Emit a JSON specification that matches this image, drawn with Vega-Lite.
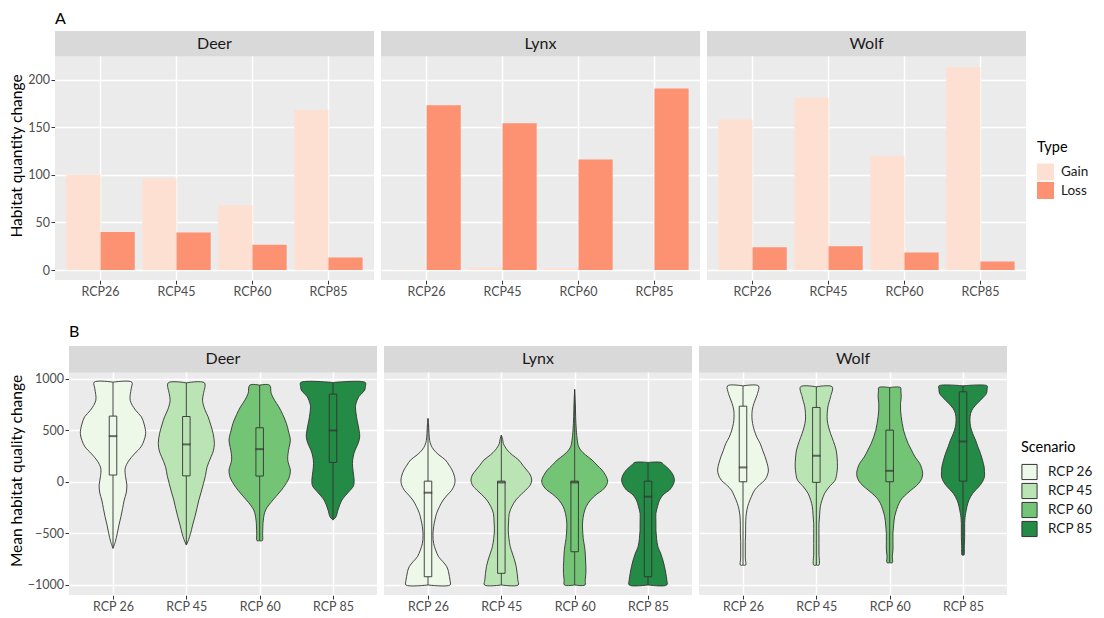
{
  "$schema": "https://vega.github.io/schema/vega-lite/v6.json",
  "padding": {"left": 8, "top": 11, "right": 0, "bottom": 0},
  "config": {
    "font": "Lato",
    "view": {"fill": "#EBEBEB", "stroke": null},
    "axis": {"domain": false, "gridColor": "#FFFFFF", "tickColor": "#333333", "tickSize": 4, "tickWidth": 1, "labelColor": "#4D4D4D", "labelFontSize": 12.5, "labelPadding": 1.5, "titleFontSize": 15.5, "titleFontWeight": "normal", "titleColor": "#000000", "titlePadding": 3},
    "legend": {"titleFontSize": 14.5, "titleFontWeight": "normal", "titleColor": "#000000", "labelFontSize": 13.5, "labelColor": "#1A1A1A", "symbolType": "square", "titlePadding": 8},
    "title": {"fontSize": 16, "fontWeight": "normal", "color": "#000000", "anchor": "start", "frame": "group"}
  },
  "spacing": 26,
  "resolve": {"scale": {"color": "independent"}, "legend": {"color": "independent"}},
  "vconcat": [
    {
      "spacing": 0,
      "hconcat": [
        {"width": 1, "height": 1, "view": {"fill": null, "stroke": null}, "data": {"values": []}, "mark": "rect", "encoding": {}},
        {
          "title": {"text": "A", "offset": 4},
          "data": {"values": [
            {"species": "Deer", "scenario": "RCP26", "type": "Gain", "change": 100},
            {"species": "Deer", "scenario": "RCP26", "type": "Loss", "change": 40},
            {"species": "Deer", "scenario": "RCP45", "type": "Gain", "change": 96},
            {"species": "Deer", "scenario": "RCP45", "type": "Loss", "change": 39.5},
            {"species": "Deer", "scenario": "RCP60", "type": "Gain", "change": 68},
            {"species": "Deer", "scenario": "RCP60", "type": "Loss", "change": 26.5},
            {"species": "Deer", "scenario": "RCP85", "type": "Gain", "change": 168},
            {"species": "Deer", "scenario": "RCP85", "type": "Loss", "change": 13},
            {"species": "Lynx", "scenario": "RCP26", "type": "Gain", "change": 0.5},
            {"species": "Lynx", "scenario": "RCP26", "type": "Loss", "change": 173},
            {"species": "Lynx", "scenario": "RCP45", "type": "Gain", "change": 2.5},
            {"species": "Lynx", "scenario": "RCP45", "type": "Loss", "change": 154},
            {"species": "Lynx", "scenario": "RCP60", "type": "Gain", "change": 2},
            {"species": "Lynx", "scenario": "RCP60", "type": "Loss", "change": 116},
            {"species": "Lynx", "scenario": "RCP85", "type": "Gain", "change": 0},
            {"species": "Lynx", "scenario": "RCP85", "type": "Loss", "change": 190.5},
            {"species": "Wolf", "scenario": "RCP26", "type": "Gain", "change": 158},
            {"species": "Wolf", "scenario": "RCP26", "type": "Loss", "change": 24},
            {"species": "Wolf", "scenario": "RCP45", "type": "Gain", "change": 181},
            {"species": "Wolf", "scenario": "RCP45", "type": "Loss", "change": 25},
            {"species": "Wolf", "scenario": "RCP60", "type": "Gain", "change": 120},
            {"species": "Wolf", "scenario": "RCP60", "type": "Loss", "change": 18.5},
            {"species": "Wolf", "scenario": "RCP85", "type": "Gain", "change": 213},
            {"species": "Wolf", "scenario": "RCP85", "type": "Loss", "change": 9}
          ]},
          "facet": {"column": {"field": "species", "type": "nominal", "header": null}},
          "spacing": 7,
          "spec": {
            "width": 319,
            "height": 249,
            "layer": [
              {
                "mark": {"type": "bar"},
                "encoding": {
                  "x": {"field": "scenario", "type": "nominal", "scale": {"paddingInner": 0.1, "paddingOuter": 0.15},
                        "axis": {"title": null, "grid": true, "gridWidth": 1.5, "labelAngle": 0}},
                  "xOffset": {"field": "type", "type": "nominal"},
                  "y": {"field": "change", "type": "quantitative",
                        "scale": {"domain": [-10.5, 251], "nice": false, "zero": false},
                        "axis": {"title": "Habitat quantity change",
                                 "values": [0, 25, 50, 75, 100, 125, 150, 175, 200],
                                 "format": "d",
                                 "labelExpr": "datum.value % 50 === 0 ? datum.label : ''",
                                 "gridWidth": {"condition": {"test": "datum.value % 50 === 0", "value": 1.5}, "value": 0.75},
                                 "tickOpacity": {"condition": {"test": "datum.value % 50 === 0", "value": 1}, "value": 0}}},
                  "color": {"field": "type", "type": "nominal", "scale": {"domain": ["Gain", "Loss"], "range": ["#FEE0D2", "#FC9272"]},
                            "legend": {"title": "Type", "orient": "none", "legendX": 1029, "legendY": 110, "symbolSize": 289, "symbolStrokeWidth": 0, "rowPadding": 1.5, "labelOffset": 7}}
                }
              },
              {
                "transform": [{"aggregate": [{"op": "count", "as": "n"}], "groupby": ["species"]}],
                "mark": {"type": "rect", "fill": "#D9D9D9"},
                "encoding": {"y": {"datum": 224.5, "type": "quantitative"}, "y2": {"datum": 251}}
              },
              {
                "transform": [{"aggregate": [{"op": "count", "as": "n"}], "groupby": ["species"]}],
                "mark": {"type": "text", "fontSize": 16, "color": "#1A1A1A", "baseline": "middle"},
                "encoding": {"y": {"datum": 237.7, "type": "quantitative"}, "text": {"field": "species"}}
              }
            ]
          }
        }
      ]
    },
    {
      "spacing": 0,
      "hconcat": [
        {"width": 1, "height": 1, "view": {"fill": null, "stroke": null}, "data": {"values": []}, "mark": "rect", "encoding": {}},
        {
          "title": {"text": "B", "offset": 6},
          "data": {"values": [
            {"species":"Deer","scenario":"RCP 26","value":-645,"density":0},
            {"species":"Deer","scenario":"RCP 26","value":-580,"density":0.07},
            {"species":"Deer","scenario":"RCP 26","value":-500,"density":0.13},
            {"species":"Deer","scenario":"RCP 26","value":-420,"density":0.18},
            {"species":"Deer","scenario":"RCP 26","value":-339,"density":0.24},
            {"species":"Deer","scenario":"RCP 26","value":-260,"density":0.29},
            {"species":"Deer","scenario":"RCP 26","value":-177,"density":0.34},
            {"species":"Deer","scenario":"RCP 26","value":-110,"density":0.40},
            {"species":"Deer","scenario":"RCP 26","value":-30,"density":0.42},
            {"species":"Deer","scenario":"RCP 26","value":50,"density":0.38},
            {"species":"Deer","scenario":"RCP 26","value":130,"density":0.37},
            {"species":"Deer","scenario":"RCP 26","value":200,"density":0.47},
            {"species":"Deer","scenario":"RCP 26","value":270,"density":0.65},
            {"species":"Deer","scenario":"RCP 26","value":339,"density":0.85},
            {"species":"Deer","scenario":"RCP 26","value":400,"density":0.94},
            {"species":"Deer","scenario":"RCP 26","value":468,"density":0.99},
            {"species":"Deer","scenario":"RCP 26","value":550,"density":0.95},
            {"species":"Deer","scenario":"RCP 26","value":629,"density":0.86},
            {"species":"Deer","scenario":"RCP 26","value":694,"density":0.68},
            {"species":"Deer","scenario":"RCP 26","value":790,"density":0.52},
            {"species":"Deer","scenario":"RCP 26","value":900,"density":0.55},
            {"species":"Deer","scenario":"RCP 26","value":965,"density":0.57},
            {"species":"Deer","scenario":"RCP 26","value":965,"density":0},
            {"species":"Deer","scenario":"RCP 45","value":-613,"density":0},
            {"species":"Deer","scenario":"RCP 45","value":-560,"density":0.07},
            {"species":"Deer","scenario":"RCP 45","value":-500,"density":0.13},
            {"species":"Deer","scenario":"RCP 45","value":-420,"density":0.19},
            {"species":"Deer","scenario":"RCP 45","value":-339,"density":0.26},
            {"species":"Deer","scenario":"RCP 45","value":-260,"density":0.32},
            {"species":"Deer","scenario":"RCP 45","value":-177,"density":0.38},
            {"species":"Deer","scenario":"RCP 45","value":-100,"density":0.45},
            {"species":"Deer","scenario":"RCP 45","value":-16,"density":0.52},
            {"species":"Deer","scenario":"RCP 45","value":60,"density":0.58},
            {"species":"Deer","scenario":"RCP 45","value":145,"density":0.63},
            {"species":"Deer","scenario":"RCP 45","value":242,"density":0.75},
            {"species":"Deer","scenario":"RCP 45","value":300,"density":0.82},
            {"species":"Deer","scenario":"RCP 45","value":371,"density":0.85},
            {"species":"Deer","scenario":"RCP 45","value":468,"density":0.81},
            {"species":"Deer","scenario":"RCP 45","value":550,"density":0.74},
            {"species":"Deer","scenario":"RCP 45","value":629,"density":0.66},
            {"species":"Deer","scenario":"RCP 45","value":700,"density":0.56},
            {"species":"Deer","scenario":"RCP 45","value":790,"density":0.49},
            {"species":"Deer","scenario":"RCP 45","value":855,"density":0.52},
            {"species":"Deer","scenario":"RCP 45","value":958,"density":0.55},
            {"species":"Deer","scenario":"RCP 45","value":958,"density":0},
            {"species":"Deer","scenario":"RCP 60","value":-571,"density":0},
            {"species":"Deer","scenario":"RCP 60","value":-571,"density":0.08},
            {"species":"Deer","scenario":"RCP 60","value":-500,"density":0.09},
            {"species":"Deer","scenario":"RCP 60","value":-371,"density":0.11},
            {"species":"Deer","scenario":"RCP 60","value":-274,"density":0.18},
            {"species":"Deer","scenario":"RCP 60","value":-177,"density":0.40},
            {"species":"Deer","scenario":"RCP 60","value":-81,"density":0.66},
            {"species":"Deer","scenario":"RCP 60","value":16,"density":0.86},
            {"species":"Deer","scenario":"RCP 60","value":60,"density":0.91},
            {"species":"Deer","scenario":"RCP 60","value":113,"density":0.93},
            {"species":"Deer","scenario":"RCP 60","value":160,"density":0.89},
            {"species":"Deer","scenario":"RCP 60","value":210,"density":0.85},
            {"species":"Deer","scenario":"RCP 60","value":274,"density":0.86},
            {"species":"Deer","scenario":"RCP 60","value":330,"density":0.89},
            {"species":"Deer","scenario":"RCP 60","value":403,"density":0.93},
            {"species":"Deer","scenario":"RCP 60","value":480,"density":0.88},
            {"species":"Deer","scenario":"RCP 60","value":565,"density":0.81},
            {"species":"Deer","scenario":"RCP 60","value":650,"density":0.70},
            {"species":"Deer","scenario":"RCP 60","value":726,"density":0.58},
            {"species":"Deer","scenario":"RCP 60","value":790,"density":0.45},
            {"species":"Deer","scenario":"RCP 60","value":855,"density":0.35},
            {"species":"Deer","scenario":"RCP 60","value":936,"density":0.30},
            {"species":"Deer","scenario":"RCP 60","value":936,"density":0},
            {"species":"Deer","scenario":"RCP 85","value":-371,"density":0},
            {"species":"Deer","scenario":"RCP 85","value":-340,"density":0.09},
            {"species":"Deer","scenario":"RCP 85","value":-274,"density":0.15},
            {"species":"Deer","scenario":"RCP 85","value":-177,"density":0.27},
            {"species":"Deer","scenario":"RCP 85","value":-100,"density":0.47},
            {"species":"Deer","scenario":"RCP 85","value":-40,"density":0.62},
            {"species":"Deer","scenario":"RCP 85","value":16,"density":0.64},
            {"species":"Deer","scenario":"RCP 85","value":100,"density":0.61},
            {"species":"Deer","scenario":"RCP 85","value":178,"density":0.59},
            {"species":"Deer","scenario":"RCP 85","value":240,"density":0.61},
            {"species":"Deer","scenario":"RCP 85","value":307,"density":0.67},
            {"species":"Deer","scenario":"RCP 85","value":370,"density":0.76},
            {"species":"Deer","scenario":"RCP 85","value":436,"density":0.81},
            {"species":"Deer","scenario":"RCP 85","value":500,"density":0.79},
            {"species":"Deer","scenario":"RCP 85","value":597,"density":0.73},
            {"species":"Deer","scenario":"RCP 85","value":660,"density":0.70},
            {"species":"Deer","scenario":"RCP 85","value":726,"density":0.68},
            {"species":"Deer","scenario":"RCP 85","value":760,"density":0.70},
            {"species":"Deer","scenario":"RCP 85","value":823,"density":0.78},
            {"species":"Deer","scenario":"RCP 85","value":887,"density":0.96},
            {"species":"Deer","scenario":"RCP 85","value":920,"density":0.98},
            {"species":"Deer","scenario":"RCP 85","value":961,"density":0.98},
            {"species":"Deer","scenario":"RCP 85","value":961,"density":0},
            {"species":"Lynx","scenario":"RCP 26","value":-1000,"density":0},
            {"species":"Lynx","scenario":"RCP 26","value":-1000,"density":0.67},
            {"species":"Lynx","scenario":"RCP 26","value":-960,"density":0.67},
            {"species":"Lynx","scenario":"RCP 26","value":-920,"density":0.65},
            {"species":"Lynx","scenario":"RCP 26","value":-870,"density":0.62},
            {"species":"Lynx","scenario":"RCP 26","value":-823,"density":0.57},
            {"species":"Lynx","scenario":"RCP 26","value":-770,"density":0.44},
            {"species":"Lynx","scenario":"RCP 26","value":-726,"density":0.32},
            {"species":"Lynx","scenario":"RCP 26","value":-660,"density":0.23},
            {"species":"Lynx","scenario":"RCP 26","value":-597,"density":0.17},
            {"species":"Lynx","scenario":"RCP 26","value":-520,"density":0.15},
            {"species":"Lynx","scenario":"RCP 26","value":-436,"density":0.17},
            {"species":"Lynx","scenario":"RCP 26","value":-370,"density":0.21},
            {"species":"Lynx","scenario":"RCP 26","value":-306,"density":0.26},
            {"species":"Lynx","scenario":"RCP 26","value":-240,"density":0.35},
            {"species":"Lynx","scenario":"RCP 26","value":-177,"density":0.46},
            {"species":"Lynx","scenario":"RCP 26","value":-120,"density":0.61},
            {"species":"Lynx","scenario":"RCP 26","value":-81,"density":0.72},
            {"species":"Lynx","scenario":"RCP 26","value":-30,"density":0.80},
            {"species":"Lynx","scenario":"RCP 26","value":16,"density":0.82},
            {"species":"Lynx","scenario":"RCP 26","value":65,"density":0.79},
            {"species":"Lynx","scenario":"RCP 26","value":113,"density":0.73},
            {"species":"Lynx","scenario":"RCP 26","value":160,"density":0.64},
            {"species":"Lynx","scenario":"RCP 26","value":210,"density":0.53},
            {"species":"Lynx","scenario":"RCP 26","value":260,"density":0.33},
            {"species":"Lynx","scenario":"RCP 26","value":307,"density":0.18},
            {"species":"Lynx","scenario":"RCP 26","value":355,"density":0.09},
            {"species":"Lynx","scenario":"RCP 26","value":400,"density":0.05},
            {"species":"Lynx","scenario":"RCP 26","value":468,"density":0.03},
            {"species":"Lynx","scenario":"RCP 26","value":540,"density":0.02},
            {"species":"Lynx","scenario":"RCP 26","value":613,"density":0},
            {"species":"Lynx","scenario":"RCP 45","value":-1000,"density":0},
            {"species":"Lynx","scenario":"RCP 45","value":-1000,"density":0.51},
            {"species":"Lynx","scenario":"RCP 45","value":-950,"density":0.50},
            {"species":"Lynx","scenario":"RCP 45","value":-887,"density":0.48},
            {"species":"Lynx","scenario":"RCP 45","value":-820,"density":0.45},
            {"species":"Lynx","scenario":"RCP 45","value":-758,"density":0.40},
            {"species":"Lynx","scenario":"RCP 45","value":-690,"density":0.33},
            {"species":"Lynx","scenario":"RCP 45","value":-629,"density":0.27},
            {"species":"Lynx","scenario":"RCP 45","value":-550,"density":0.23},
            {"species":"Lynx","scenario":"RCP 45","value":-468,"density":0.21},
            {"species":"Lynx","scenario":"RCP 45","value":-390,"density":0.22},
            {"species":"Lynx","scenario":"RCP 45","value":-306,"density":0.24},
            {"species":"Lynx","scenario":"RCP 45","value":-240,"density":0.32},
            {"species":"Lynx","scenario":"RCP 45","value":-177,"density":0.44},
            {"species":"Lynx","scenario":"RCP 45","value":-120,"density":0.61},
            {"species":"Lynx","scenario":"RCP 45","value":-81,"density":0.74},
            {"species":"Lynx","scenario":"RCP 45","value":-30,"density":0.88},
            {"species":"Lynx","scenario":"RCP 45","value":16,"density":0.92},
            {"species":"Lynx","scenario":"RCP 45","value":65,"density":0.88},
            {"species":"Lynx","scenario":"RCP 45","value":113,"density":0.77},
            {"species":"Lynx","scenario":"RCP 45","value":160,"density":0.65},
            {"species":"Lynx","scenario":"RCP 45","value":210,"density":0.53},
            {"species":"Lynx","scenario":"RCP 45","value":260,"density":0.33},
            {"species":"Lynx","scenario":"RCP 45","value":307,"density":0.18},
            {"species":"Lynx","scenario":"RCP 45","value":340,"density":0.11},
            {"species":"Lynx","scenario":"RCP 45","value":371,"density":0.06},
            {"species":"Lynx","scenario":"RCP 45","value":410,"density":0.04},
            {"species":"Lynx","scenario":"RCP 45","value":452,"density":0},
            {"species":"Lynx","scenario":"RCP 60","value":-1000,"density":0},
            {"species":"Lynx","scenario":"RCP 60","value":-1000,"density":0.31},
            {"species":"Lynx","scenario":"RCP 60","value":-950,"density":0.32},
            {"species":"Lynx","scenario":"RCP 60","value":-887,"density":0.34},
            {"species":"Lynx","scenario":"RCP 60","value":-820,"density":0.34},
            {"species":"Lynx","scenario":"RCP 60","value":-758,"density":0.33},
            {"species":"Lynx","scenario":"RCP 60","value":-690,"density":0.32},
            {"species":"Lynx","scenario":"RCP 60","value":-629,"density":0.30},
            {"species":"Lynx","scenario":"RCP 60","value":-550,"density":0.26},
            {"species":"Lynx","scenario":"RCP 60","value":-468,"density":0.24},
            {"species":"Lynx","scenario":"RCP 60","value":-390,"density":0.24},
            {"species":"Lynx","scenario":"RCP 60","value":-306,"density":0.28},
            {"species":"Lynx","scenario":"RCP 60","value":-240,"density":0.35},
            {"species":"Lynx","scenario":"RCP 60","value":-177,"density":0.48},
            {"species":"Lynx","scenario":"RCP 60","value":-120,"density":0.67},
            {"species":"Lynx","scenario":"RCP 60","value":-81,"density":0.84},
            {"species":"Lynx","scenario":"RCP 60","value":-40,"density":0.95},
            {"species":"Lynx","scenario":"RCP 60","value":6,"density":1.0},
            {"species":"Lynx","scenario":"RCP 60","value":60,"density":0.94},
            {"species":"Lynx","scenario":"RCP 60","value":113,"density":0.83},
            {"species":"Lynx","scenario":"RCP 60","value":160,"density":0.68},
            {"species":"Lynx","scenario":"RCP 60","value":210,"density":0.53},
            {"species":"Lynx","scenario":"RCP 60","value":260,"density":0.33},
            {"species":"Lynx","scenario":"RCP 60","value":307,"density":0.18},
            {"species":"Lynx","scenario":"RCP 60","value":350,"density":0.11},
            {"species":"Lynx","scenario":"RCP 60","value":403,"density":0.08},
            {"species":"Lynx","scenario":"RCP 60","value":500,"density":0.05},
            {"species":"Lynx","scenario":"RCP 60","value":629,"density":0.03},
            {"species":"Lynx","scenario":"RCP 60","value":760,"density":0.02},
            {"species":"Lynx","scenario":"RCP 60","value":894,"density":0},
            {"species":"Lynx","scenario":"RCP 85","value":-1000,"density":0},
            {"species":"Lynx","scenario":"RCP 85","value":-1000,"density":0.57},
            {"species":"Lynx","scenario":"RCP 85","value":-950,"density":0.57},
            {"species":"Lynx","scenario":"RCP 85","value":-887,"density":0.54},
            {"species":"Lynx","scenario":"RCP 85","value":-820,"density":0.50},
            {"species":"Lynx","scenario":"RCP 85","value":-758,"density":0.45},
            {"species":"Lynx","scenario":"RCP 85","value":-690,"density":0.38},
            {"species":"Lynx","scenario":"RCP 85","value":-629,"density":0.30},
            {"species":"Lynx","scenario":"RCP 85","value":-550,"density":0.26},
            {"species":"Lynx","scenario":"RCP 85","value":-468,"density":0.24},
            {"species":"Lynx","scenario":"RCP 85","value":-390,"density":0.24},
            {"species":"Lynx","scenario":"RCP 85","value":-306,"density":0.24},
            {"species":"Lynx","scenario":"RCP 85","value":-240,"density":0.29},
            {"species":"Lynx","scenario":"RCP 85","value":-177,"density":0.35},
            {"species":"Lynx","scenario":"RCP 85","value":-120,"density":0.48},
            {"species":"Lynx","scenario":"RCP 85","value":-81,"density":0.65},
            {"species":"Lynx","scenario":"RCP 85","value":-30,"density":0.76},
            {"species":"Lynx","scenario":"RCP 85","value":16,"density":0.80},
            {"species":"Lynx","scenario":"RCP 85","value":65,"density":0.76},
            {"species":"Lynx","scenario":"RCP 85","value":113,"density":0.66},
            {"species":"Lynx","scenario":"RCP 85","value":160,"density":0.50},
            {"species":"Lynx","scenario":"RCP 85","value":187,"density":0.40},
            {"species":"Lynx","scenario":"RCP 85","value":187,"density":0},
            {"species":"Wolf","scenario":"RCP 26","value":-807,"density":0},
            {"species":"Wolf","scenario":"RCP 26","value":-807,"density":0.08},
            {"species":"Wolf","scenario":"RCP 26","value":-740,"density":0.07},
            {"species":"Wolf","scenario":"RCP 26","value":-661,"density":0.07},
            {"species":"Wolf","scenario":"RCP 26","value":-580,"density":0.07},
            {"species":"Wolf","scenario":"RCP 26","value":-500,"density":0.08},
            {"species":"Wolf","scenario":"RCP 26","value":-420,"density":0.08},
            {"species":"Wolf","scenario":"RCP 26","value":-339,"density":0.09},
            {"species":"Wolf","scenario":"RCP 26","value":-270,"density":0.12},
            {"species":"Wolf","scenario":"RCP 26","value":-210,"density":0.17},
            {"species":"Wolf","scenario":"RCP 26","value":-140,"density":0.26},
            {"species":"Wolf","scenario":"RCP 26","value":-81,"density":0.35},
            {"species":"Wolf","scenario":"RCP 26","value":-30,"density":0.50},
            {"species":"Wolf","scenario":"RCP 26","value":16,"density":0.66},
            {"species":"Wolf","scenario":"RCP 26","value":65,"density":0.74},
            {"species":"Wolf","scenario":"RCP 26","value":113,"density":0.77},
            {"species":"Wolf","scenario":"RCP 26","value":180,"density":0.73},
            {"species":"Wolf","scenario":"RCP 26","value":242,"density":0.67},
            {"species":"Wolf","scenario":"RCP 26","value":300,"density":0.60},
            {"species":"Wolf","scenario":"RCP 26","value":371,"density":0.52},
            {"species":"Wolf","scenario":"RCP 26","value":430,"density":0.42},
            {"species":"Wolf","scenario":"RCP 26","value":500,"density":0.34},
            {"species":"Wolf","scenario":"RCP 26","value":565,"density":0.29},
            {"species":"Wolf","scenario":"RCP 26","value":629,"density":0.27},
            {"species":"Wolf","scenario":"RCP 26","value":694,"density":0.28},
            {"species":"Wolf","scenario":"RCP 26","value":758,"density":0.33},
            {"species":"Wolf","scenario":"RCP 26","value":810,"density":0.39},
            {"species":"Wolf","scenario":"RCP 26","value":855,"density":0.44},
            {"species":"Wolf","scenario":"RCP 26","value":929,"density":0.47},
            {"species":"Wolf","scenario":"RCP 26","value":929,"density":0},
            {"species":"Wolf","scenario":"RCP 45","value":-807,"density":0},
            {"species":"Wolf","scenario":"RCP 45","value":-807,"density":0.08},
            {"species":"Wolf","scenario":"RCP 45","value":-700,"density":0.08},
            {"species":"Wolf","scenario":"RCP 45","value":-597,"density":0.08},
            {"species":"Wolf","scenario":"RCP 45","value":-500,"density":0.08},
            {"species":"Wolf","scenario":"RCP 45","value":-403,"density":0.08},
            {"species":"Wolf","scenario":"RCP 45","value":-320,"density":0.10},
            {"species":"Wolf","scenario":"RCP 45","value":-242,"density":0.12},
            {"species":"Wolf","scenario":"RCP 45","value":-180,"density":0.17},
            {"species":"Wolf","scenario":"RCP 45","value":-113,"density":0.25},
            {"species":"Wolf","scenario":"RCP 45","value":-50,"density":0.39},
            {"species":"Wolf","scenario":"RCP 45","value":16,"density":0.57},
            {"species":"Wolf","scenario":"RCP 45","value":80,"density":0.62},
            {"species":"Wolf","scenario":"RCP 45","value":145,"density":0.64},
            {"species":"Wolf","scenario":"RCP 45","value":230,"density":0.63},
            {"species":"Wolf","scenario":"RCP 45","value":307,"density":0.60},
            {"species":"Wolf","scenario":"RCP 45","value":390,"density":0.52},
            {"species":"Wolf","scenario":"RCP 45","value":468,"density":0.43},
            {"species":"Wolf","scenario":"RCP 45","value":530,"density":0.37},
            {"species":"Wolf","scenario":"RCP 45","value":597,"density":0.33},
            {"species":"Wolf","scenario":"RCP 45","value":660,"density":0.33},
            {"species":"Wolf","scenario":"RCP 45","value":726,"density":0.35},
            {"species":"Wolf","scenario":"RCP 45","value":775,"density":0.39},
            {"species":"Wolf","scenario":"RCP 45","value":823,"density":0.43},
            {"species":"Wolf","scenario":"RCP 45","value":920,"density":0.48},
            {"species":"Wolf","scenario":"RCP 45","value":920,"density":0},
            {"species":"Wolf","scenario":"RCP 60","value":-784,"density":0},
            {"species":"Wolf","scenario":"RCP 60","value":-784,"density":0.08},
            {"species":"Wolf","scenario":"RCP 60","value":-720,"density":0.08},
            {"species":"Wolf","scenario":"RCP 60","value":-661,"density":0.10},
            {"species":"Wolf","scenario":"RCP 60","value":-580,"density":0.10},
            {"species":"Wolf","scenario":"RCP 60","value":-500,"density":0.10},
            {"species":"Wolf","scenario":"RCP 60","value":-420,"density":0.12},
            {"species":"Wolf","scenario":"RCP 60","value":-339,"density":0.15},
            {"species":"Wolf","scenario":"RCP 60","value":-270,"density":0.21},
            {"species":"Wolf","scenario":"RCP 60","value":-210,"density":0.28},
            {"species":"Wolf","scenario":"RCP 60","value":-160,"density":0.38},
            {"species":"Wolf","scenario":"RCP 60","value":-113,"density":0.53},
            {"species":"Wolf","scenario":"RCP 60","value":-60,"density":0.73},
            {"species":"Wolf","scenario":"RCP 60","value":-16,"density":0.88},
            {"species":"Wolf","scenario":"RCP 60","value":30,"density":0.97},
            {"species":"Wolf","scenario":"RCP 60","value":81,"density":1.0},
            {"species":"Wolf","scenario":"RCP 60","value":130,"density":0.97},
            {"species":"Wolf","scenario":"RCP 60","value":178,"density":0.91},
            {"species":"Wolf","scenario":"RCP 60","value":240,"density":0.77},
            {"species":"Wolf","scenario":"RCP 60","value":307,"density":0.66},
            {"species":"Wolf","scenario":"RCP 60","value":370,"density":0.56},
            {"species":"Wolf","scenario":"RCP 60","value":436,"density":0.48},
            {"species":"Wolf","scenario":"RCP 60","value":500,"density":0.42},
            {"species":"Wolf","scenario":"RCP 60","value":565,"density":0.38},
            {"species":"Wolf","scenario":"RCP 60","value":630,"density":0.35},
            {"species":"Wolf","scenario":"RCP 60","value":694,"density":0.33},
            {"species":"Wolf","scenario":"RCP 60","value":760,"density":0.33},
            {"species":"Wolf","scenario":"RCP 60","value":823,"density":0.35},
            {"species":"Wolf","scenario":"RCP 60","value":880,"density":0.34},
            {"species":"Wolf","scenario":"RCP 60","value":913,"density":0.33},
            {"species":"Wolf","scenario":"RCP 60","value":913,"density":0},
            {"species":"Wolf","scenario":"RCP 85","value":-710,"density":0},
            {"species":"Wolf","scenario":"RCP 85","value":-710,"density":0.03},
            {"species":"Wolf","scenario":"RCP 85","value":-620,"density":0.04},
            {"species":"Wolf","scenario":"RCP 85","value":-532,"density":0.05},
            {"species":"Wolf","scenario":"RCP 85","value":-460,"density":0.05},
            {"species":"Wolf","scenario":"RCP 85","value":-403,"density":0.05},
            {"species":"Wolf","scenario":"RCP 85","value":-350,"density":0.06},
            {"species":"Wolf","scenario":"RCP 85","value":-306,"density":0.08},
            {"species":"Wolf","scenario":"RCP 85","value":-240,"density":0.12},
            {"species":"Wolf","scenario":"RCP 85","value":-177,"density":0.18},
            {"species":"Wolf","scenario":"RCP 85","value":-110,"density":0.30},
            {"species":"Wolf","scenario":"RCP 85","value":-48,"density":0.48},
            {"species":"Wolf","scenario":"RCP 85","value":0,"density":0.59},
            {"species":"Wolf","scenario":"RCP 85","value":48,"density":0.65},
            {"species":"Wolf","scenario":"RCP 85","value":100,"density":0.65},
            {"species":"Wolf","scenario":"RCP 85","value":145,"density":0.64},
            {"species":"Wolf","scenario":"RCP 85","value":210,"density":0.59},
            {"species":"Wolf","scenario":"RCP 85","value":274,"density":0.53},
            {"species":"Wolf","scenario":"RCP 85","value":340,"density":0.45},
            {"species":"Wolf","scenario":"RCP 85","value":403,"density":0.38},
            {"species":"Wolf","scenario":"RCP 85","value":470,"density":0.29},
            {"species":"Wolf","scenario":"RCP 85","value":532,"density":0.23},
            {"species":"Wolf","scenario":"RCP 85","value":600,"density":0.21},
            {"species":"Wolf","scenario":"RCP 85","value":661,"density":0.23},
            {"species":"Wolf","scenario":"RCP 85","value":710,"density":0.30},
            {"species":"Wolf","scenario":"RCP 85","value":758,"density":0.43},
            {"species":"Wolf","scenario":"RCP 85","value":810,"density":0.59},
            {"species":"Wolf","scenario":"RCP 85","value":855,"density":0.71},
            {"species":"Wolf","scenario":"RCP 85","value":900,"density":0.73},
            {"species":"Wolf","scenario":"RCP 85","value":929,"density":0.73},
            {"species":"Wolf","scenario":"RCP 85","value":929,"density":0},
            {"species":"Deer","scenario":"RCP 26","q1":65,"median":442,"q3":636,"lower":-645,"upper":965},
            {"species":"Deer","scenario":"RCP 45","q1":57,"median":362,"q3":632,"lower":-613,"upper":958},
            {"species":"Deer","scenario":"RCP 60","q1":55,"median":316,"q3":523,"lower":-571,"upper":936},
            {"species":"Deer","scenario":"RCP 85","q1":187,"median":497,"q3":849,"lower":-371,"upper":961},
            {"species":"Lynx","scenario":"RCP 26","q1":-920,"median":-106,"q3":6,"lower":-1000,"upper":613},
            {"species":"Lynx","scenario":"RCP 45","q1":-887,"median":-7,"q3":6,"lower":-1000,"upper":452},
            {"species":"Lynx","scenario":"RCP 60","q1":-678,"median":-7,"q3":6,"lower":-1000,"upper":894},
            {"species":"Lynx","scenario":"RCP 85","q1":-920,"median":-145,"q3":6,"lower":-1000,"upper":187},
            {"species":"Wolf","scenario":"RCP 26","q1":0,"median":139,"q3":732,"lower":-807,"upper":929},
            {"species":"Wolf","scenario":"RCP 45","q1":-6,"median":252,"q3":720,"lower":-807,"upper":920},
            {"species":"Wolf","scenario":"RCP 60","q1":0,"median":106,"q3":500,"lower":-784,"upper":913},
            {"species":"Wolf","scenario":"RCP 85","q1":6,"median":390,"q3":871,"lower":-710,"upper":929}
          ]},
          "facet": {"column": {"field": "species", "type": "nominal", "header": null}},
          "spacing": 7,
          "spec": {
            "width": 308,
            "height": 249,
            "resolve": {"scale": {"xOffset": "independent"}},
            "layer": [
              {
                "transform": [{"filter": "isValid(datum.density)"}],
                "mark": {"type": "line", "filled": true, "stroke": "#333333", "strokeWidth": 0.9, "interpolate": "catmull-rom"},
                "encoding": {
                  "x": {"field": "scenario", "type": "nominal", "scale": {"type": "point", "padding": 0.6},
                        "axis": {"title": null, "grid": true, "gridWidth": 1.5, "labelAngle": 0}},
                  "xOffset": {"field": "density", "type": "quantitative", "scale": {"domain": [0, 1], "range": [0, 33]}},
                  "y": {"field": "value", "type": "quantitative",
                        "scale": {"domain": [-1097, 1315], "nice": false, "zero": false},
                        "axis": {"title": "Mean habitat quality change",
                                 "values": [-1000, -750, -500, -250, 0, 250, 500, 750, 1000],
                                 "format": "d",
                                 "labelExpr": "datum.value % 500 === 0 ? datum.label : ''",
                                 "gridWidth": {"condition": {"test": "datum.value % 500 === 0", "value": 1.5}, "value": 0.75},
                                 "tickOpacity": {"condition": {"test": "datum.value % 500 === 0", "value": 1}, "value": 0}}},
                  "color": {"field": "scenario", "type": "nominal",
                            "scale": {"domain": ["RCP 26", "RCP 45", "RCP 60", "RCP 85"], "range": ["#EDF8E9", "#BAE4B3", "#74C476", "#238B45"]},
                            "legend": {"title": "Scenario", "orient": "none", "legendX": 1013, "legendY": 95, "symbolType": "square", "symbolSize": 230, "symbolStrokeColor": "#333333", "symbolStrokeWidth": 1, "rowPadding": -3, "labelOffset": 10}},
                  "order": {"value": null}
                }
              },
              {
                "transform": [{"filter": "isValid(datum.density)"}],
                "mark": {"type": "line", "filled": true, "stroke": "#333333", "strokeWidth": 0.9, "interpolate": "catmull-rom"},
                "encoding": {
                  "x": {"field": "scenario", "type": "nominal", "scale": {"type": "point", "padding": 0.6}},
                  "xOffset": {"field": "density", "type": "quantitative", "scale": {"domain": [0, 1], "range": [0, -33]}},
                  "y": {"field": "value", "type": "quantitative"},
                  "color": {"field": "scenario", "type": "nominal"},
                  "order": {"value": null}
                }
              },
              {
                "transform": [{"filter": "isValid(datum.q1)"}],
                "mark": {"type": "rule", "color": "#333333", "strokeWidth": 0.9},
                "encoding": {
                  "x": {"field": "scenario", "type": "nominal", "scale": {"type": "point", "padding": 0.6}},
                  "y": {"field": "lower", "type": "quantitative"},
                  "y2": {"field": "upper"}
                }
              },
              {
                "transform": [{"filter": "isValid(datum.q1)"}],
                "mark": {"type": "bar", "size": 7.5, "stroke": "#333333", "strokeWidth": 0.9},
                "encoding": {
                  "x": {"field": "scenario", "type": "nominal", "scale": {"type": "point", "padding": 0.6}},
                  "y": {"field": "q1", "type": "quantitative"},
                  "y2": {"field": "q3"},
                  "color": {"field": "scenario", "type": "nominal"}
                }
              },
              {
                "transform": [{"filter": "isValid(datum.q1)"}],
                "mark": {"type": "tick", "size": 8.5, "thickness": 2, "color": "#333333"},
                "encoding": {
                  "x": {"field": "scenario", "type": "nominal", "scale": {"type": "point", "padding": 0.6}},
                  "y": {"field": "median", "type": "quantitative"}
                }
              },
              {
                "transform": [{"aggregate": [{"op": "count", "as": "n"}], "groupby": ["species"]}],
                "mark": {"type": "rect", "fill": "#D9D9D9"},
                "encoding": {"y": {"datum": 1058, "type": "quantitative"}, "y2": {"datum": 1315}}
              },
              {
                "transform": [{"aggregate": [{"op": "count", "as": "n"}], "groupby": ["species"]}],
                "mark": {"type": "text", "fontSize": 16, "color": "#1A1A1A", "baseline": "middle"},
                "encoding": {"y": {"datum": 1186, "type": "quantitative"}, "text": {"field": "species"}}
              }
            ]
          }
        }
      ]
    }
  ]
}
